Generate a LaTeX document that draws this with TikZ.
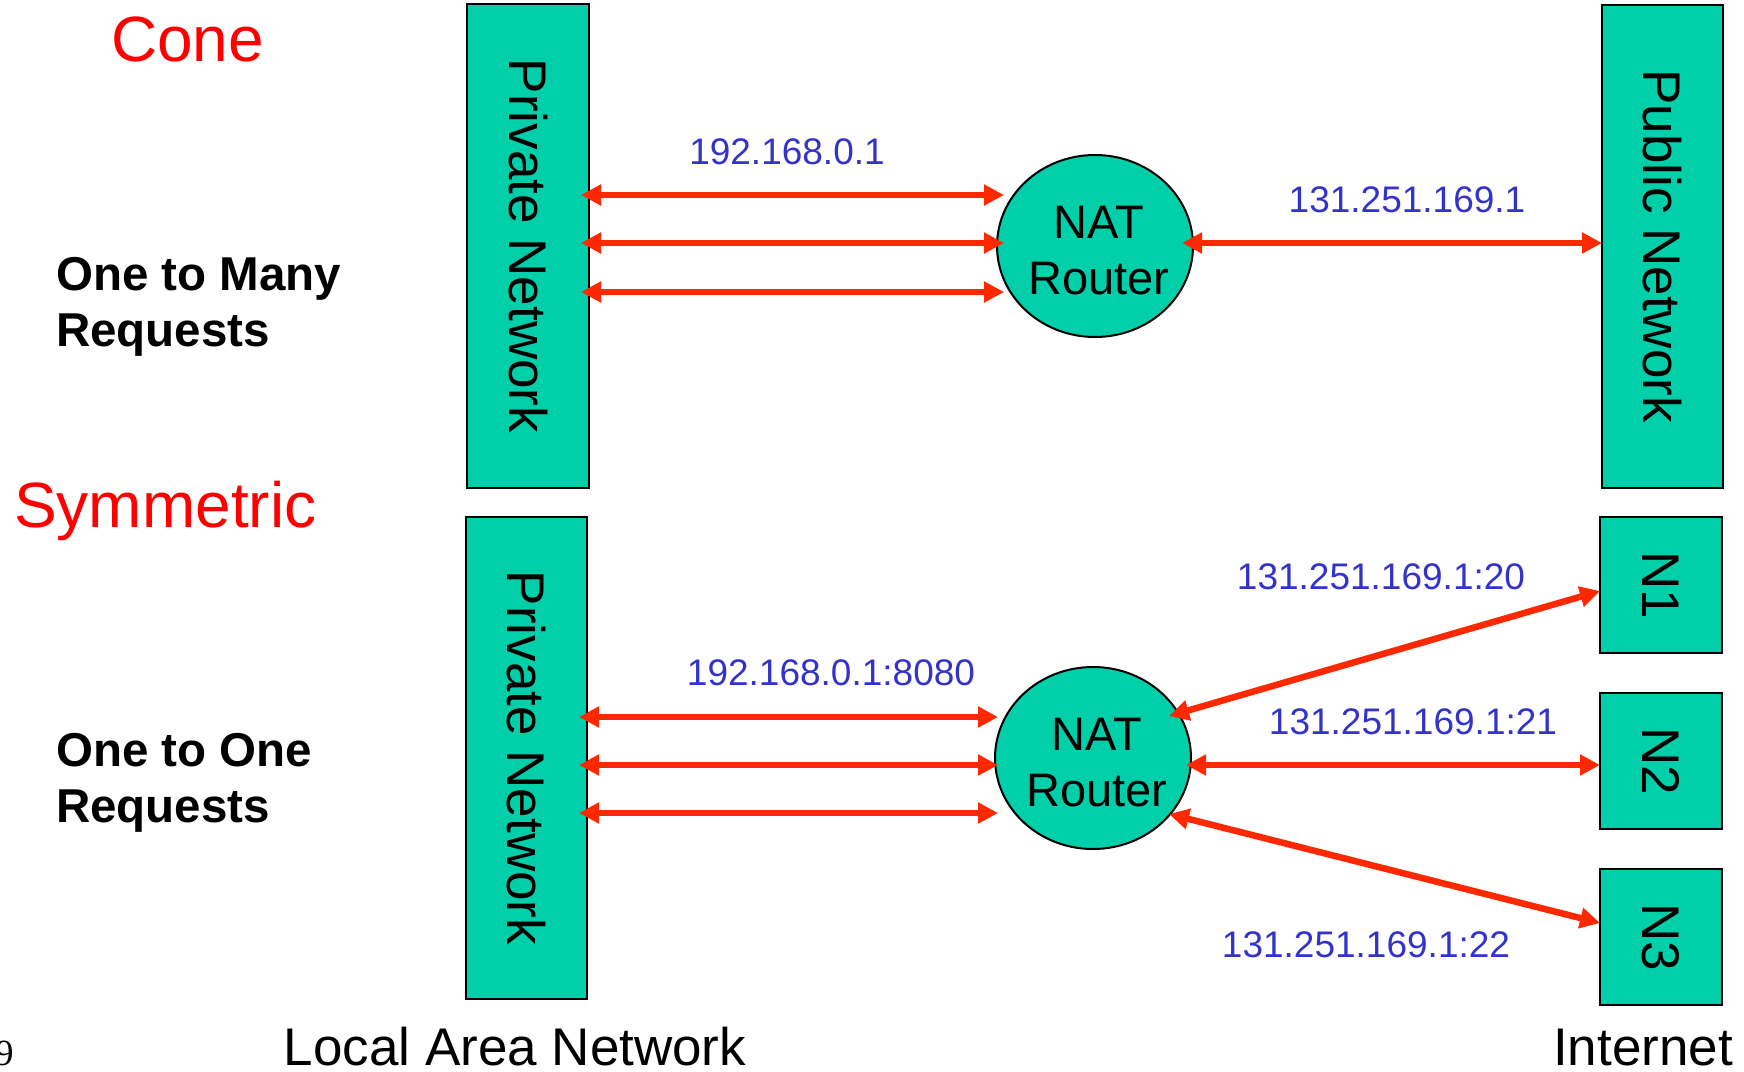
\documentclass[tikz,border=0pt]{standalone}
\usepackage{fontspec}
\setmainfont{Liberation Sans}
\newfontfamily\seriffam{Liberation Serif}
\usetikzlibrary{arrows.meta,shapes.geometric}
\definecolor{teal1}{RGB}{0,207,170}
\definecolor{arrred}{RGB}{255,40,0}
\definecolor{lblue}{RGB}{51,51,204}
\definecolor{titlered}{RGB}{255,0,0}
\begin{document}
\begin{tikzpicture}[x=1pt,y=-1pt,
  netbox/.style={draw=black,line width=2pt,fill=teal1,inner sep=0pt},
  router/.style={ellipse,draw=black,line width=2pt,fill=teal1,inner sep=0pt,
     minimum width=196pt,minimum height=182pt},
  routertext/.style={align=center,inner sep=0pt,font=\fontsize{47}{56}\selectfont},
  boxtext/.style={rotate=-90,font=\fontsize{53}{60}\selectfont},
  arr/.style={line width=6.5pt,draw=arrred,
     {Triangle[length=20pt,width=20pt]}-{Triangle[length=20pt,width=20pt]}},
  iplabel/.style={text=lblue,anchor=base,inner sep=0pt,font=\fontsize{37}{44}\selectfont},
  title/.style={text=titlered,anchor=base west,inner sep=0pt,font=\fontsize{64}{70}\selectfont},
  bold/.style={anchor=base west,inner sep=0pt,font=\fontsize{47.5}{56}\selectfont\bfseries},
  bottomlbl/.style={anchor=base,inner sep=0pt,font=\fontsize{53}{60}\selectfont}
]
\useasboundingbox (0,0) rectangle (1744,1071);
\fill[white] (0,0) rectangle (1744,1071);

% titles and side text
\node[title] (cone) at (111,61) {Cone};
\node[title] (sym) at (14,527) {Symmetric};
\node[bold] (otm1) at (56,290) {One to Many};
\node[bold] (otm2) at (56,346) {Requests};
\node[bold] (oto1) at (56,766) {One to One};
\node[bold] (oto2) at (56,822) {Requests};

% boxes
\node[netbox,minimum width=122pt,minimum height=484pt] (pn1) at (528,246) {};
\node[boxtext] (pn1t) at (pn1.center) {Private Network};
\node[netbox,minimum width=121pt,minimum height=483pt] (pub) at (1662,246) {};
\node[boxtext] (pubt) at (pub.center) {Public Network};
\node[netbox,minimum width=121pt,minimum height=482pt] (pn2) at (526,758) {};
\node[boxtext] (pn2t) at (pn2.center) {Private Network};
\node[netbox,minimum width=122pt,minimum height=136pt] (n1) at (1661,585) {};
\node[boxtext] (n1t) at (n1.center) {N1};
\node[netbox,minimum width=122pt,minimum height=136pt] (n2) at (1661,761) {};
\node[boxtext] (n2t) at (n2.center) {N2};
\node[netbox,minimum width=122pt,minimum height=136pt] (n3) at (1661,937) {};
\node[boxtext] (n3t) at (n3.center) {N3};

% routers
\node[router] (r1) at (1095,246) {};
\node[routertext] (r1t) at ([shift={(4,5)}]r1.center) {NAT\\Router};
\node[router] (r2) at (1093,758) {};
\node[routertext] (r2t) at ([shift={(4,5)}]r2.center) {NAT\\Router};

% arrow end points
\coordinate (a1l) at (581,195); \coordinate (a1r) at (1004,195);
\coordinate (a2l) at (581,243); \coordinate (a2r) at (1004,243);
\coordinate (a3l) at (581,292); \coordinate (a3r) at (1004,292);
\coordinate (a4l) at (1182,243); \coordinate (a4r) at (1602,243);
\coordinate (b1l) at (579,717); \coordinate (b1r) at (998,717);
\coordinate (b2l) at (579,765); \coordinate (b2r) at (998,765);
\coordinate (b3l) at (579,813); \coordinate (b3r) at (998,813);
\coordinate (c1l) at (1169,716); \coordinate (c1r) at (1600,591);
\coordinate (c2l) at (1186,765); \coordinate (c2r) at (1600,765);
\coordinate (c3l) at (1169,814); \coordinate (c3r) at (1600,923);

\draw[arr] (a1l) -- (a1r);
\draw[arr] (a2l) -- (a2r);
\draw[arr] (a3l) -- (a3r);
\draw[arr] (a4l) -- (a4r);
\draw[arr] (b1l) -- (b1r);
\draw[arr] (b2l) -- (b2r);
\draw[arr] (b3l) -- (b3r);
\draw[arr] (c1l) -- (c1r);
\draw[arr] (c2l) -- (c2r);
\draw[arr] (c3l) -- (c3r);

% ip labels
\node[iplabel] (ip1) at (787,164) {192.168.0.1};
\node[iplabel] (ip2) at (1407,212) {131.251.169.1};
\node[iplabel] (ip3) at (831,685) {192.168.0.1:8080};
\node[iplabel] (ip4) at (1381,589) {131.251.169.1:20};
\node[iplabel] (ip5) at (1413,734) {131.251.169.1:21};
\node[iplabel] (ip6) at (1366,957) {131.251.169.1:22};

% bottom labels
\node[bottomlbl] (lan) at (515,1065) {Local Area Network};
\node[bottomlbl] (inet) at (1643,1065) {Internet};
\node[anchor=base west,inner sep=0pt,font=\seriffam\fontsize{37}{40}\selectfont] (pg) at (-5,1065) {9};
\end{tikzpicture}
\end{document}
